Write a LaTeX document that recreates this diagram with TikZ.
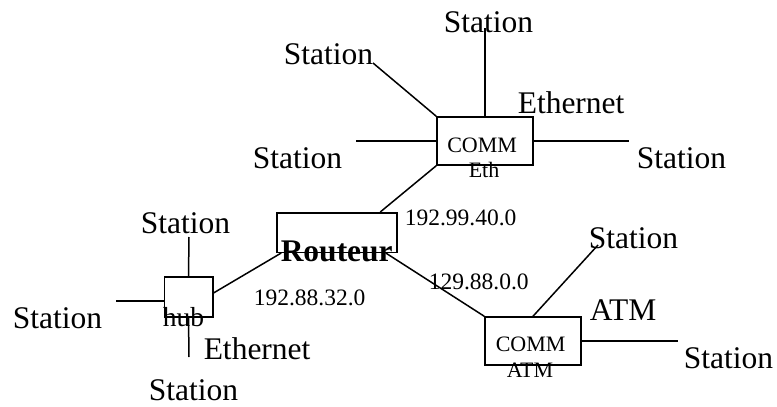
\documentclass[tikz,border=0pt]{standalone}
\usepackage{fontspec}
\setmainfont{Liberation Serif}
\usepackage{tikz}

\begin{document}
\begin{tikzpicture}[x=1pt,y=-1pt,line width=1.5pt,
      big/.style={anchor=base west,inner sep=0pt,font=\fontsize{31.5}{36}\selectfont},
      ip/.style={anchor=base west,inner sep=0pt,font=\fontsize{23.5}{27}\selectfont},
      small/.style={anchor=base west,inner sep=0pt,font=\fontsize{22}{26}\selectfont},
      box/.style={draw,inner sep=0pt}]
      		\useasboundingbox (0,0) rectangle (777,407);
      		% boites
      		\node[box,minimum width=96pt,minimum height=48pt] (eth) at (485,141) {};
      		\node[box,minimum width=120pt,minimum height=39.5pt] (routeur) at (337,232.5) {};
      		\node[box,minimum width=48.5pt,minimum height=40pt] (hub) at (188.5,297) {};
      		\node[box,minimum width=96pt,minimum height=48pt] (atm) at (533,341) {};
      		% textes
      		\node[big] (st1) at (443,32) {Station};
      		\node[big] (st2) at (283,64) {Station};
      		\node[big] (eth1) at (517,113) {Ethernet};
      		\node[big] (st3) at (252,168) {Station};
      		\node[big] (st4) at (636,168) {Station};
      		\node[small] (comm1) at (446.5,152) {COMM};
      		\node[small] (eth2) at (468,177) {Eth};
      		\node[ip] (ip1) at (404,225) {192.99.40.0};
      		\node[big,font=\fontsize{31.5}{36}\selectfont\bfseries] (rt) at (280,261) {Routeur};
      		\node[big] (st5) at (140,233) {Station};
      		\node[big] (st6) at (12,328) {Station};
      		\node[anchor=base west,inner sep=0pt,font=\fontsize{27.5}{32}\selectfont] (hb) at (162,326) {hub};
      		\node[big] (eth3) at (203,359) {Ethernet};
      		\node[big] (st7) at (148,400) {Station};
      		\node[ip] (ip2) at (253,305) {192.88.32.0};
      		\node[ip] (ip3) at (428,289) {129.88.0.0};
      		\node[big] (st8) at (588,248) {Station};
      		\node[big] (atm1) at (589,320) {ATM};
      		\node[big] (st9) at (683,368) {Station};
      		\node[small] (comm2) at (495,351) {COMM};
      		\node[small] (atm2) at (506,377) {ATM};
      		% bouts des lignes
      		\coordinate (e1) at (485,28);
      		\coordinate (e2) at (373,63);
      		\coordinate (e3) at (356,141);
      		\coordinate (e4) at (629,141);
      		\coordinate (h1) at (189,237);
      		\coordinate (h2) at (116,301);
      		\coordinate (h3) at (189,357);
      		\coordinate (a1) at (598,245);
      		\coordinate (a2) at (678,341);
      		% lignes
      		\draw (eth.north) -- (e1);
      		\draw (eth.north west) -- (e2);
      		\draw (eth.west) -- (e3);
      		\draw (eth.east) -- (e4);
      		\draw (eth.south west) -- ([xshift=104pt]routeur.north west);
      		\draw (hub.north) -- (h1);
      		\draw ([yshift=-4pt]hub.west) -- (h2);
      		\draw (hub.south) -- (h3);
      		\draw ([yshift=4pt]hub.east) -- ([xshift=5pt]routeur.south west);
      		\draw ([xshift=-12pt]routeur.south east) -- (atm.north west);
      		\draw (atm.north) -- (a1);
      		\draw (atm.east) -- (a2);
    	\end{tikzpicture}
\end{document}
